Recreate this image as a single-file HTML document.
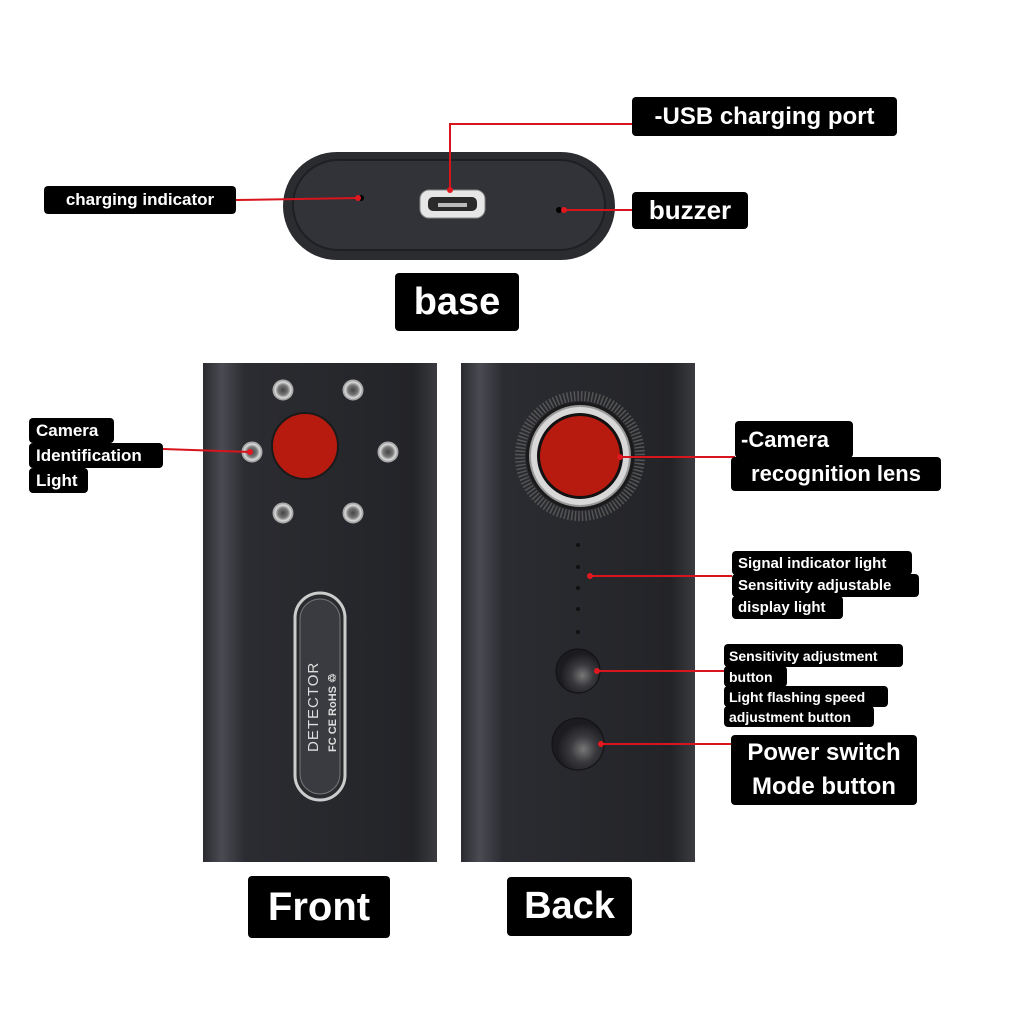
<!DOCTYPE html>
<html><head><meta charset="utf-8"><style>
body{margin:0;width:1024px;height:1024px;background:#fff;position:relative;overflow:hidden;font-family:"Liberation Sans",sans-serif}
.l{position:absolute;background:#000;color:#fff;font-weight:bold;white-space:nowrap;border-radius:4px;box-sizing:border-box;display:flex;align-items:center;justify-content:center}
.a{position:absolute}
</style></head><body>
<svg class="a" style="left:0;top:0" width="1024" height="1024">
<defs>
<linearGradient id="pg" x1="0" x2="1"><stop offset="0" stop-color="#2a2b30"/><stop offset="0.08" stop-color="#4a4b52"/><stop offset="0.18" stop-color="#2b2c31"/><stop offset="0.9" stop-color="#232428"/><stop offset="1" stop-color="#3a3b40"/></linearGradient>
<radialGradient id="led"><stop offset="0" stop-color="#444"/><stop offset="0.5" stop-color="#777"/><stop offset="0.8" stop-color="#ddd"/><stop offset="1" stop-color="#888"/></radialGradient>
<radialGradient id="btn" cx="0.6" cy="0.6"><stop offset="0" stop-color="#777"/><stop offset="0.5" stop-color="#3a3a3e"/><stop offset="1" stop-color="#1c1c20"/></radialGradient>
</defs>
<!-- base -->
<rect x="283" y="152" width="332" height="108" rx="54" fill="#2b2c30"/>
<rect x="293" y="160" width="312" height="90" rx="45" fill="#323338" stroke="#1e1f22" stroke-width="2"/>
<rect x="420" y="190" width="65" height="28" rx="9" fill="#e6e6e6" stroke="#888"/>
<rect x="428" y="197" width="49" height="14" rx="5" fill="#2a2a2a"/>
<rect x="438" y="203" width="29" height="4" fill="#bbb"/>
<circle cx="361" cy="198" r="3" fill="#000"/>
<circle cx="559" cy="210" r="3" fill="#000"/>
<!-- front panel -->
<rect x="203" y="363" width="234" height="499" fill="url(#pg)"/>
<circle cx="305" cy="446" r="33" fill="#b71a0e" stroke="#1a1a1a" stroke-width="2"/>
<g fill="url(#led)" stroke="#aaa">
<circle cx="283" cy="390" r="10"/><circle cx="353" cy="390" r="10"/><circle cx="252" cy="452" r="10"/><circle cx="388" cy="452" r="10"/><circle cx="283" cy="513" r="10"/><circle cx="353" cy="513" r="10"/></g>
<rect x="295" y="593" width="50" height="207" rx="25" fill="#2a2b2f" stroke="#ccc" stroke-width="3"/>
<rect x="300" y="599" width="40" height="195" rx="20" fill="#3a3b40" stroke="#777"/>
<text transform="translate(318,752) rotate(-90)" fill="#ddd" font-size="15" font-family="Liberation Sans" letter-spacing="1">DETECTOR</text>
<text transform="translate(336,752) rotate(-90)" fill="#ddd" font-size="11" font-weight="bold" font-family="Liberation Sans">FC CE RoHS ♲</text>
<!-- back panel -->
<rect x="461" y="363" width="234" height="499" fill="url(#pg)"/>
<circle cx="580" cy="456" r="60" fill="none" stroke="#555" stroke-width="10" stroke-dasharray="1.5 2"/>
<circle cx="580" cy="456" r="54" fill="#1a1a1a"/>
<circle cx="580" cy="456" r="50" fill="#d8d8d8" stroke="#999" stroke-width="2"/>
<circle cx="580" cy="456" r="43" fill="#111"/>
<circle cx="580" cy="456" r="40" fill="#b71a0e"/>
<g fill="#111"><circle cx="578" cy="545" r="2"/><circle cx="578" cy="567" r="2"/><circle cx="578" cy="588" r="2"/><circle cx="578" cy="609" r="2"/><circle cx="578" cy="632" r="2"/></g>
<circle cx="578" cy="671" r="22" fill="url(#btn)" stroke="#111"/>
<circle cx="578" cy="744" r="26" fill="url(#btn)" stroke="#111"/>
<!-- connectors -->
<g stroke="#d8141c" stroke-width="2" fill="none">
<line x1="236" y1="200" x2="358" y2="198"/>
<polyline points="632,124 450,124 450,190"/>
<line x1="562" y1="210" x2="632" y2="210"/>
<line x1="163" y1="449" x2="250" y2="452"/>
<line x1="620" y1="457" x2="735" y2="457"/>
<line x1="590" y1="576" x2="732" y2="576"/>
<line x1="597" y1="671" x2="725" y2="671"/>
<line x1="601" y1="744" x2="731" y2="744"/>
</g>
<g fill="#e01820"><circle cx="358" cy="198" r="3"/><circle cx="450" cy="190" r="3"/><circle cx="564" cy="210" r="3"/><circle cx="250" cy="452" r="3"/><circle cx="620" cy="457" r="3"/><circle cx="590" cy="576" r="3"/><circle cx="597" cy="671" r="3"/><circle cx="601" cy="744" r="3"/></g>
</svg>
<div class="l" style="left:44px;top:186px;width:192px;height:28px;font-size:17px">charging indicator</div>
<div class="l" style="left:632px;top:97px;width:265px;height:39px;font-size:24px">-USB charging port</div>
<div class="l" style="left:632px;top:192px;width:116px;height:37px;font-size:26px">buzzer</div>
<div class="l" style="left:395px;top:273px;width:124px;height:58px;font-size:38px">base</div>
<div class="l" style="left:29px;top:418px;width:85px;height:25px;font-size:17px;justify-content:flex-start;padding-left:7px">Camera</div>
<div class="l" style="left:29px;top:443px;width:134px;height:25px;font-size:17px;justify-content:flex-start;padding-left:7px">Identification</div>
<div class="l" style="left:29px;top:468px;width:59px;height:25px;font-size:17px;justify-content:flex-start;padding-left:7px">Light</div>
<div class="l" style="left:735px;top:421px;width:118px;height:37px;font-size:22px;justify-content:flex-start;padding-left:6px">-Camera</div>
<div class="l" style="left:731px;top:457px;width:210px;height:34px;font-size:22px">recognition lens</div>
<div class="l" style="left:732px;top:551px;width:180px;height:24px;font-size:15px;justify-content:flex-start;padding-left:6px">Signal indicator light</div>
<div class="l" style="left:732px;top:574px;width:187px;height:23px;font-size:15px;justify-content:flex-start;padding-left:6px">Sensitivity adjustable</div>
<div class="l" style="left:732px;top:596px;width:111px;height:23px;font-size:15px;justify-content:flex-start;padding-left:6px">display light</div>
<div class="l" style="left:724px;top:644px;width:179px;height:23px;font-size:14px;justify-content:flex-start;padding-left:5px">Sensitivity adjustment</div>
<div class="l" style="left:724px;top:666px;width:63px;height:21px;font-size:14px;justify-content:flex-start;padding-left:5px">button</div>
<div class="l" style="left:724px;top:686px;width:164px;height:21px;font-size:14px;justify-content:flex-start;padding-left:5px">Light flashing speed</div>
<div class="l" style="left:724px;top:706px;width:150px;height:21px;font-size:14px;justify-content:flex-start;padding-left:5px">adjustment button</div>
<div class="l" style="left:731px;top:735px;width:186px;height:70px;font-size:24px;flex-direction:column;line-height:34px">Power switch<br><span>Mode button</span></div>
<div class="l" style="left:248px;top:876px;width:142px;height:62px;font-size:40px">Front</div>
<div class="l" style="left:507px;top:877px;width:125px;height:59px;font-size:38px">Back</div>
</body></html>
